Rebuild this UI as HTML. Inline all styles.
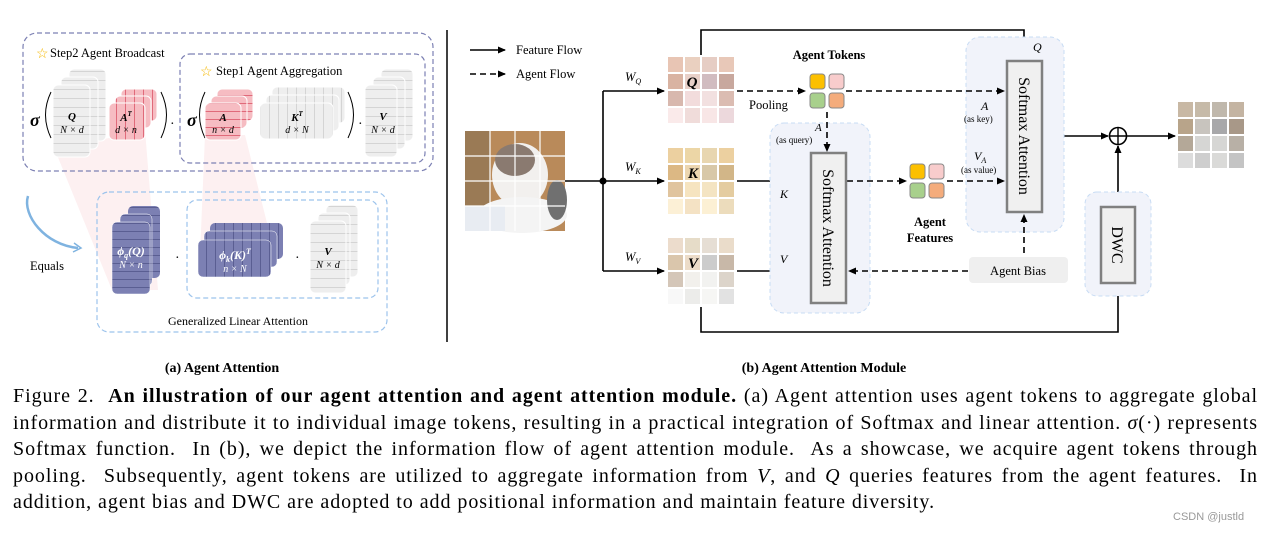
<!DOCTYPE html>
<html><head><meta charset="utf-8"><style>
html,body{margin:0;padding:0;background:#fff;width:1278px;height:533px;overflow:hidden}
.cap{position:absolute;left:13px;width:1245px;font-family:"Liberation Serif",serif;font-size:20px;letter-spacing:0.95px;color:#000;line-height:26.5px;top:383px}
.cap div{text-align:justify;text-align-last:justify;white-space:nowrap}
.cap div.last{text-align-last:left}
i{font-style:italic}
</style></head><body>
<svg width="1278" height="380" style="position:absolute;left:0;top:0" font-family="Liberation Serif, serif">
<defs>
<pattern id="hl" width="40" height="9" patternUnits="userSpaceOnUse"><rect width="40" height="9" fill="#eeeeee"/><line x1="0" y1="8.5" x2="40" y2="8.5" stroke="#d4d4d4" stroke-width="1"/></pattern>
<pattern id="vl" width="9" height="40" patternUnits="userSpaceOnUse"><rect width="9" height="40" fill="#eeeeee"/><line x1="8.5" y1="0" x2="8.5" y2="40" stroke="#d4d4d4" stroke-width="1"/></pattern>
<pattern id="phl" width="40" height="8" patternUnits="userSpaceOnUse"><rect width="40" height="8" fill="#f6bcc2"/><line x1="0" y1="7.5" x2="40" y2="7.5" stroke="#e06a7a" stroke-width="1"/></pattern>
<pattern id="pvl" width="9" height="40" patternUnits="userSpaceOnUse"><rect width="9" height="40" fill="#f6bcc2"/><line x1="8.5" y1="0" x2="8.5" y2="40" stroke="#e06a7a" stroke-width="1"/></pattern>
<pattern id="uhl" width="40" height="8" patternUnits="userSpaceOnUse"><rect width="40" height="8" fill="#7c80b3"/><line x1="0" y1="7.5" x2="40" y2="7.5" stroke="#5a5e92" stroke-width="1"/></pattern>
<pattern id="uvl" width="9" height="40" patternUnits="userSpaceOnUse"><rect width="9" height="40" fill="#7c80b3"/><line x1="8.5" y1="0" x2="8.5" y2="40" stroke="#5a5e92" stroke-width="1"/></pattern>
<marker id="ar" markerWidth="8" markerHeight="8" refX="7" refY="4" orient="auto" markerUnits="userSpaceOnUse"><path d="M0,0.5 L8,4 L0,7.5 Z" fill="#000"/></marker>
</defs>

<polygon points="55,150 145,130 158,290 112,290" fill="#fdf0f1"/>
<polygon points="205,135 245,135 275,255 200,255" fill="#fdf0f1"/>

<rect x="23" y="33" width="410" height="138" rx="14" fill="none" stroke="#7c80b3" stroke-width="1.2" stroke-dasharray="5,3"/>
<rect x="180" y="54" width="245" height="109" rx="10" fill="none" stroke="#7c80b3" stroke-width="1.2" stroke-dasharray="5,3"/>
<text x="36" y="58" font-size="14" fill="#f5b800">☆</text>
<text x="50" y="57" font-size="12.5">Step2  Agent Broadcast</text>
<text x="200" y="76" font-size="14" fill="#f5b800">☆</text>
<text x="216" y="75" font-size="12.5">Step1  Agent Aggregation</text>

<rect x="69" y="69" width="37" height="72" rx="5" fill="url(#hl)" stroke="#fff"/>
<rect x="61" y="77" width="37" height="72" rx="5" fill="url(#hl)" stroke="#fff"/>
<rect x="53" y="85" width="37" height="72" rx="5" fill="url(#hl)" stroke="#fff"/>
<text x="72" y="120" font-size="11" font-weight="bold" font-style="italic" text-anchor="middle">Q</text>
<text x="72" y="133" font-size="10" font-style="italic" text-anchor="middle">N × d</text>
<text x="30" y="126" font-size="18" font-weight="bold" font-style="italic">σ</text>
<path d="M51,92 Q40,115 51,138" fill="none" stroke="#000" stroke-width="1"/>
<rect x="121" y="89" width="36" height="32" rx="5" fill="url(#pvl)" stroke="#fff"/>
<rect x="115" y="96" width="36" height="32" rx="5" fill="url(#pvl)" stroke="#fff"/>
<rect x="109" y="103" width="36" height="37" rx="5" fill="url(#pvl)" stroke="#fff"/>
<text x="126" y="121" font-size="11" font-weight="bold" font-style="italic" text-anchor="middle">A<tspan font-size="7" dy="-5">T</tspan></text>
<text x="126" y="133" font-size="10" font-style="italic" text-anchor="middle">d × n</text>
<path d="M161,92 Q172,115 161,138" fill="none" stroke="#000" stroke-width="1"/>
<text x="170" y="128" font-size="14">·</text>
<text x="187" y="126" font-size="18" font-weight="bold" font-style="italic">σ</text>
<path d="M205,92 Q194,115 205,138" fill="none" stroke="#000" stroke-width="1"/>
<rect x="217" y="89" width="36" height="32" rx="5" fill="url(#phl)" stroke="#fff"/>
<rect x="211" y="96" width="36" height="32" rx="5" fill="url(#phl)" stroke="#fff"/>
<rect x="205" y="103" width="36" height="37" rx="5" fill="url(#phl)" stroke="#fff"/>
<text x="223" y="121" font-size="11" font-weight="bold" font-style="italic" text-anchor="middle">A</text>
<text x="223" y="133" font-size="10" font-style="italic" text-anchor="middle">n × d</text>
<rect x="272" y="87" width="73" height="36" rx="5" fill="url(#vl)" stroke="#fff"/>
<rect x="266" y="95" width="73" height="36" rx="5" fill="url(#vl)" stroke="#fff"/>
<rect x="260" y="103" width="73" height="36" rx="5" fill="url(#vl)" stroke="#fff"/>
<text x="297" y="121" font-size="11" font-weight="bold" font-style="italic" text-anchor="middle">K<tspan font-size="7" dy="-5">T</tspan></text>
<text x="297" y="133" font-size="10" font-style="italic" text-anchor="middle">d × N</text>
<path d="M348,92 Q359,115 348,138" fill="none" stroke="#000" stroke-width="1"/>
<text x="358" y="128" font-size="14">·</text>
<rect x="381" y="69" width="32" height="72" rx="5" fill="url(#hl)" stroke="#fff"/>
<rect x="373" y="77" width="32" height="72" rx="5" fill="url(#hl)" stroke="#fff"/>
<rect x="365" y="85" width="32" height="72" rx="5" fill="url(#hl)" stroke="#fff"/>
<text x="383" y="120" font-size="11" font-weight="bold" font-style="italic" text-anchor="middle">V</text>
<text x="383" y="133" font-size="10" font-style="italic" text-anchor="middle">N × d</text>

<rect x="97" y="192" width="290" height="140" rx="12" fill="none" stroke="#9cc3ec" stroke-width="1.2" stroke-dasharray="5,3"/>
<rect x="187" y="200" width="191" height="98" rx="10" fill="none" stroke="#9cc3ec" stroke-width="1.2" stroke-dasharray="5,3"/>
<path d="M28,196 C22,215 45,245 78,248" fill="none" stroke="#7fb3e0" stroke-width="2.5"/>
<path d="M74,243 L81,248 L73,252" fill="none" stroke="#7fb3e0" stroke-width="1.5"/>
<text x="30" y="270" font-size="12.5">Equals</text>
<rect x="128" y="206" width="32" height="72" rx="5" fill="url(#uhl)"/>
<rect x="120" y="214" width="32" height="72" rx="5" fill="url(#uhl)" stroke="#fff" stroke-width=".5"/>
<rect x="112" y="222" width="38" height="72" rx="5" fill="url(#uhl)" stroke="#fff" stroke-width=".5"/>
<text x="131" y="255" font-size="12" font-weight="bold" font-style="italic" fill="#fff" text-anchor="middle">ϕ<tspan font-size="8" dy="3">q</tspan><tspan dy="-3">(Q)</tspan></text>
<text x="131" y="268" font-size="10" font-style="italic" fill="#fff" text-anchor="middle">N × n</text>
<text x="175" y="262" font-size="14">·</text>
<rect x="210" y="223" width="73" height="36" rx="5" fill="url(#uvl)"/>
<rect x="204" y="231" width="73" height="36" rx="5" fill="url(#uvl)" stroke="#fff" stroke-width=".5"/>
<rect x="198" y="240" width="73" height="37" rx="5" fill="url(#uvl)" stroke="#fff" stroke-width=".5"/>
<text x="235" y="259" font-size="12" font-weight="bold" font-style="italic" fill="#fff" text-anchor="middle">ϕ<tspan font-size="8" dy="3">k</tspan><tspan dy="-3">(K)</tspan><tspan font-size="8" dy="-5">T</tspan></text>
<text x="235" y="272" font-size="10" font-style="italic" fill="#fff" text-anchor="middle">n × N</text>
<text x="295" y="262" font-size="14">·</text>
<rect x="326" y="205" width="32" height="72" rx="5" fill="url(#hl)" stroke="#fff"/>
<rect x="318" y="213" width="32" height="72" rx="5" fill="url(#hl)" stroke="#fff"/>
<rect x="310" y="221" width="36" height="72" rx="5" fill="url(#hl)" stroke="#fff"/>
<text x="328" y="255" font-size="11" font-weight="bold" font-style="italic" text-anchor="middle">V</text>
<text x="328" y="268" font-size="10" font-style="italic" text-anchor="middle">N × d</text>
<text x="238" y="325" font-size="12" text-anchor="middle">Generalized Linear Attention</text>

<line x1="447" y1="30" x2="447" y2="342" stroke="#000" stroke-width="1.5"/>

<line x1="470" y1="50" x2="505" y2="50" stroke="#000" stroke-width="1.5" marker-end="url(#ar)"/>
<text x="516" y="54" font-size="12.5">Feature Flow</text>
<line x1="470" y1="74" x2="505" y2="74" stroke="#000" stroke-width="1.5" stroke-dasharray="6,4" marker-end="url(#ar)"/>
<text x="516" y="78" font-size="12.5">Agent Flow</text>

<rect x="465" y="131" width="100" height="100" fill="#b98a5a"/>
<rect x="465" y="131" width="25" height="100" fill="#9a7a55"/>
<ellipse cx="520" cy="175" rx="28" ry="32" fill="#f2f0ee"/>
<ellipse cx="515" cy="160" rx="20" ry="16" fill="#8a7a70"/>
<ellipse cx="522" cy="215" rx="45" ry="18" fill="#f4f4f4"/>
<rect x="465" y="206" width="40" height="25" fill="#e8ecf2"/>
<ellipse cx="557" cy="200" rx="10" ry="20" fill="#707070"/>
<g stroke="#fff" stroke-width="1.2"><line x1="490" y1="131" x2="490" y2="231"/><line x1="515" y1="131" x2="515" y2="231"/><line x1="540" y1="131" x2="540" y2="231"/><line x1="465" y1="156" x2="565" y2="156"/><line x1="465" y1="181" x2="565" y2="181"/><line x1="465" y1="206" x2="565" y2="206"/></g>

<g stroke="#000" stroke-width="1.6" fill="none">
<line x1="565" y1="181" x2="603" y2="181"/>
<line x1="603" y1="91" x2="603" y2="271"/>
<line x1="603" y1="91" x2="664" y2="91" marker-end="url(#ar)"/>
<line x1="603" y1="181" x2="664" y2="181" marker-end="url(#ar)"/>
<line x1="603" y1="271" x2="664" y2="271" marker-end="url(#ar)"/>
<polyline points="701,55 701,30 1024,30 1024,55" marker-end="url(#ar)"/>
<polyline points="701,307 701,332 1118,332 1118,284" marker-end="url(#ar)"/>
<line x1="737" y1="181" x2="808" y2="181" marker-end="url(#ar)"/>
<line x1="737" y1="271" x2="808" y2="271" marker-end="url(#ar)"/>
<line x1="1044" y1="136" x2="1108" y2="136" marker-end="url(#ar)"/>
<line x1="1127" y1="136" x2="1175" y2="136" marker-end="url(#ar)"/>
<line x1="1118" y1="206" x2="1118" y2="146" marker-end="url(#ar)"/>
</g>
<circle cx="603" cy="181" r="3.5" fill="#000"/>
<text x="625" y="81" font-size="12.5" font-style="italic">W<tspan font-size="8" dy="3">Q</tspan></text>
<text x="625" y="171" font-size="12.5" font-style="italic">W<tspan font-size="8" dy="3">K</tspan></text>
<text x="625" y="261" font-size="12.5" font-style="italic">W<tspan font-size="8" dy="3">V</tspan></text>

<g>
<rect x="668" y="57" width="15" height="15" fill="#e8c5b4"/><rect x="685" y="57" width="15" height="15" fill="#ead0c0"/><rect x="702" y="57" width="15" height="15" fill="#e6cdc4"/><rect x="719" y="57" width="15" height="15" fill="#e8c8b8"/>
<rect x="668" y="74" width="15" height="15" fill="#d9b3a2"/><rect x="685" y="74" width="15" height="15" fill="#e8d0c8"/><rect x="702" y="74" width="15" height="15" fill="#d1bcc0"/><rect x="719" y="74" width="15" height="15" fill="#c8a89e"/>
<rect x="668" y="91" width="15" height="15" fill="#d8b8ae"/><rect x="685" y="91" width="15" height="15" fill="#f2dcdc"/><rect x="702" y="91" width="15" height="15" fill="#f2e0e0"/><rect x="719" y="91" width="15" height="15" fill="#dbbcb2"/>
<rect x="668" y="108" width="15" height="15" fill="#faeaea"/><rect x="685" y="108" width="15" height="15" fill="#f0dcda"/><rect x="702" y="108" width="15" height="15" fill="#f8e6e6"/><rect x="719" y="108" width="15" height="15" fill="#ecd8dc"/>
</g>
<text x="692" y="87" font-size="15" font-weight="bold" font-style="italic" text-anchor="middle">Q</text>
<g>
<rect x="668" y="148" width="15" height="15" fill="#ecd0a0"/><rect x="685" y="148" width="15" height="15" fill="#ecd6a6"/><rect x="702" y="148" width="15" height="15" fill="#e8d6b0"/><rect x="719" y="148" width="15" height="15" fill="#ecd0a0"/>
<rect x="668" y="165" width="15" height="15" fill="#dcb884"/><rect x="685" y="165" width="15" height="15" fill="#ecd6b0"/><rect x="702" y="165" width="15" height="15" fill="#d8c8a8"/><rect x="719" y="165" width="15" height="15" fill="#d2b688"/>
<rect x="668" y="182" width="15" height="15" fill="#e0c49e"/><rect x="685" y="182" width="15" height="15" fill="#f6e4c0"/><rect x="702" y="182" width="15" height="15" fill="#f4e4c2"/><rect x="719" y="182" width="15" height="15" fill="#e4cca0"/>
<rect x="668" y="199" width="15" height="15" fill="#fcf0d6"/><rect x="685" y="199" width="15" height="15" fill="#f4e2c4"/><rect x="702" y="199" width="15" height="15" fill="#fcf0d4"/><rect x="719" y="199" width="15" height="15" fill="#ecdcbc"/>
</g>
<text x="693" y="178" font-size="15" font-weight="bold" font-style="italic" text-anchor="middle">K</text>
<g>
<rect x="668" y="238" width="15" height="15" fill="#ecdccc"/><rect x="685" y="238" width="15" height="15" fill="#e6dcc8"/><rect x="702" y="238" width="15" height="15" fill="#e6ded4"/><rect x="719" y="238" width="15" height="15" fill="#eadcca"/>
<rect x="668" y="255" width="15" height="15" fill="#dac6ac"/><rect x="685" y="255" width="15" height="15" fill="#ecdcc8"/><rect x="702" y="255" width="15" height="15" fill="#cccccc"/><rect x="719" y="255" width="15" height="15" fill="#c8b8a8"/>
<rect x="668" y="272" width="15" height="15" fill="#d4c6b8"/><rect x="685" y="272" width="15" height="15" fill="#f2f0ec"/><rect x="702" y="272" width="15" height="15" fill="#f2f2f0"/><rect x="719" y="272" width="15" height="15" fill="#dcd4ca"/>
<rect x="668" y="289" width="15" height="15" fill="#f8f8f8"/><rect x="685" y="289" width="15" height="15" fill="#ececea"/><rect x="702" y="289" width="15" height="15" fill="#f6f6f4"/><rect x="719" y="289" width="15" height="15" fill="#e2e2e2"/>
</g>
<text x="693" y="268" font-size="15" font-weight="bold" font-style="italic" text-anchor="middle">V</text>

<rect x="770" y="123" width="100" height="190" rx="14" fill="#f1f3fa" stroke="#c8dcf4" stroke-dasharray="4,3"/>
<rect x="966" y="37" width="98" height="195" rx="14" fill="#f1f3fa" stroke="#c8dcf4" stroke-dasharray="4,3"/>
<rect x="1085" y="192" width="66" height="104" rx="12" fill="#f1f3fa" stroke="#c8dcf4" stroke-dasharray="4,3"/>

<g stroke="#000" stroke-width="1.6" fill="none" stroke-dasharray="6,4">
<line x1="737" y1="91" x2="805" y2="91" marker-end="url(#ar)"/>
<line x1="846" y1="91" x2="1004" y2="91" marker-end="url(#ar)"/>
<line x1="827" y1="112" x2="827" y2="151" marker-end="url(#ar)"/>
<line x1="847" y1="181" x2="906" y2="181" marker-end="url(#ar)"/>
<line x1="947" y1="181" x2="1004" y2="181" marker-end="url(#ar)"/>
<line x1="1024" y1="253" x2="1024" y2="215" marker-end="url(#ar)"/>
<line x1="968" y1="271" x2="849" y2="271" marker-end="url(#ar)"/>
</g>

<rect x="810" y="74" width="15" height="15" rx="3" fill="#fcc000" stroke="#888"/><rect x="829" y="74" width="15" height="15" rx="3" fill="#f8cccc" stroke="#888"/>
<rect x="810" y="93" width="15" height="15" rx="3" fill="#a8d08c" stroke="#888"/><rect x="829" y="93" width="15" height="15" rx="3" fill="#f4ac7c" stroke="#888"/>
<text x="829" y="59" font-size="12.5" font-weight="bold" text-anchor="middle">Agent Tokens</text>
<text x="749" y="109" font-size="12.5">Pooling</text>
<text x="815" y="131" font-size="11" font-style="italic">A</text>
<text x="776" y="143" font-size="9">(as query)</text>

<rect x="811" y="153" width="35" height="150" fill="#f0f0f0" stroke="#808080" stroke-width="2.5"/>
<text font-size="16" text-anchor="middle" transform="translate(823,228) rotate(90)">Softmax Attention</text>
<text x="780" y="198" font-size="12" font-style="italic">K</text>
<text x="780" y="263" font-size="12" font-style="italic">V</text>

<rect x="910" y="164" width="15" height="15" rx="3" fill="#fcc000" stroke="#888"/><rect x="929" y="164" width="15" height="15" rx="3" fill="#f8cccc" stroke="#888"/>
<rect x="910" y="183" width="15" height="15" rx="3" fill="#a8d08c" stroke="#888"/><rect x="929" y="183" width="15" height="15" rx="3" fill="#f4ac7c" stroke="#888"/>
<text x="930" y="226" font-size="12.5" font-weight="bold" text-anchor="middle">Agent</text>
<text x="930" y="242" font-size="12.5" font-weight="bold" text-anchor="middle">Features</text>

<rect x="1007" y="61" width="35" height="151" fill="#f0f0f0" stroke="#808080" stroke-width="2.5"/>
<text font-size="16" text-anchor="middle" transform="translate(1019,136) rotate(90)">Softmax Attention</text>
<text x="1033" y="51" font-size="12" font-style="italic">Q</text>
<text x="981" y="110" font-size="12" font-style="italic">A</text>
<text x="964" y="122" font-size="9">(as key)</text>
<text x="974" y="160" font-size="12" font-style="italic">V<tspan font-size="8" dy="3">A</tspan></text>
<text x="961" y="173" font-size="9">(as value)</text>

<rect x="969" y="257" width="99" height="26" rx="4" fill="#efefef"/>
<text x="1018" y="275" font-size="12.5" text-anchor="middle">Agent Bias</text>

<rect x="1101" y="207" width="34" height="76" fill="#f0f0f0" stroke="#808080" stroke-width="2.5"/>
<text font-size="16" text-anchor="middle" transform="translate(1112,245) rotate(90)">DWC</text>

<circle cx="1118" cy="136" r="8.5" fill="#fff" stroke="#000" stroke-width="1.6"/>
<line x1="1109.5" y1="136" x2="1126.5" y2="136" stroke="#000" stroke-width="1.4"/>
<line x1="1118" y1="127.5" x2="1118" y2="144.5" stroke="#000" stroke-width="1.4"/>

<g>
<rect x="1178" y="102" width="15" height="15" fill="#c8b8a4"/><rect x="1195" y="102" width="15" height="15" fill="#c6baa8"/><rect x="1212" y="102" width="15" height="15" fill="#c0b8ac"/><rect x="1229" y="102" width="15" height="15" fill="#c4b4a2"/>
<rect x="1178" y="119" width="15" height="15" fill="#b8a48a"/><rect x="1195" y="119" width="15" height="15" fill="#c8c4be"/><rect x="1212" y="119" width="15" height="15" fill="#a8a8aa"/><rect x="1229" y="119" width="15" height="15" fill="#a89888"/>
<rect x="1178" y="136" width="15" height="15" fill="#b4a898"/><rect x="1195" y="136" width="15" height="15" fill="#d6d6d4"/><rect x="1212" y="136" width="15" height="15" fill="#d6d6d4"/><rect x="1229" y="136" width="15" height="15" fill="#b8b0a6"/>
<rect x="1178" y="153" width="15" height="15" fill="#dcdcdc"/><rect x="1195" y="153" width="15" height="15" fill="#cecece"/><rect x="1212" y="153" width="15" height="15" fill="#dadad8"/><rect x="1229" y="153" width="15" height="15" fill="#c4c4c4"/>
</g>

<text x="222" y="372" font-size="14" font-weight="bold" text-anchor="middle">(a) Agent Attention</text>
<text x="824" y="372" font-size="14" font-weight="bold" text-anchor="middle">(b) Agent Attention Module</text>
</svg>

<div class="cap">
<div>Figure 2.&nbsp; <b>An illustration of our agent attention and agent attention module.</b> (a) Agent attention uses agent tokens to aggregate global</div>
<div>information and distribute it to individual image tokens, resulting in a practical integration of Softmax and linear attention. <i>σ</i>(·) represents</div>
<div>Softmax function.&nbsp; In (b), we depict the information flow of agent attention module.&nbsp; As a showcase, we acquire agent tokens through</div>
<div>pooling.&nbsp; Subsequently, agent tokens are utilized to aggregate information from <i>V</i>, and <i>Q</i> queries features from the agent features.&nbsp; In</div>
<div class="last">addition, agent bias and DWC are adopted to add positional information and maintain feature diversity.</div>
</div>
<div style="position:absolute;left:1173px;top:511px;font-family:'Liberation Sans',sans-serif;font-size:11px;color:#999">CSDN @justld</div>
</body></html>
